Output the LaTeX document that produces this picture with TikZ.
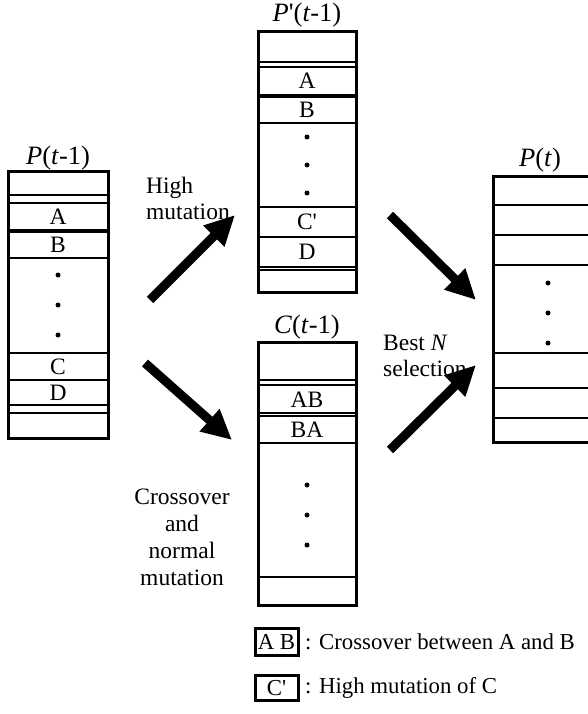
\documentclass[tikz,border=0pt]{standalone}
\usepackage{fontspec}
\setmainfont{Liberation Serif}
\usetikzlibrary{arrows.meta}
\newcommand{\prm}{\textquotesingle}
\begin{document}
\begin{tikzpicture}[x=1pt,y=-1pt,
  every node/.style={font=\fontsize{23.5}{25}\selectfont, inner sep=0pt},
  poplabel/.style={font=\fontsize{26.5}{28}\selectfont},
  keytext/.style={font=\fontsize{22.8}{25}\selectfont},
  frame/.style={draw, line width=3pt},
  rule/.style={line width=1.6pt},
  fat/.style={line width=9pt, -{Triangle[length=30pt,width=28pt]}},
  dot/.style={circle, fill, minimum size=5pt, inner sep=0pt}
]
\useasboundingbox (0,0) rectangle (588,714);

% ---- population P(t-1)
\draw[frame] (8,172) rectangle (108,438);
\foreach \y in {195,203,230,232,258,353,380,405,413}
  \draw[rule] (8,\y) -- (108,\y);
\node[poplabel] (lbl-p) at (58,158) {\textit{P}(\textit{t}-1)};
\node (p-a) at (58,217) {A};
\node (p-b) at (58,245) {B};
\node[dot] (p-d1) at (58,275) {};
\node[dot] (p-d2) at (58,305) {};
\node[dot] (p-d3) at (58,335) {};
\node (p-c) at (58,367) {C};
\node (p-dd) at (58,393) {D};

% ---- mutated population P'(t-1)
\draw[frame] (258,32) rectangle (356,292);
\foreach \y in {62,67,95,97,123,207,237,267,270}
  \draw[rule] (258,\y) -- (356,\y);
\node[poplabel] (lbl-pp) at (307,15) {\textit{P}\prm(\textit{t}-1)};
\node (pp-a) at (307,81) {A};
\node (pp-b) at (307,110) {B};
\node[dot] (pp-d1) at (307,137) {};
\node[dot] (pp-d2) at (307,165) {};
\node[dot] (pp-d3) at (307,193) {};
\node (pp-c) at (307,222) {C\prm};
\node (pp-dd) at (307,252) {D};

% ---- offspring C(t-1)
\draw[frame] (258,342) rectangle (356,605);
\foreach \y in {380,385,413,416,443,577}
  \draw[rule] (258,\y) -- (356,\y);
\node[poplabel] (lbl-c) at (307,327) {\textit{C}(\textit{t}-1)};
\node (c-ab) at (307,400) {AB};
\node (c-ba) at (307,430) {BA};
\node[dot] (c-d1) at (307,485) {};
\node[dot] (c-d2) at (307,515) {};
\node[dot] (c-d3) at (307,545) {};

% ---- new population P(t)
\draw[frame] (600,177) -- (493,177) -- (493,442) -- (600,442);
\foreach \y in {205,235,265,353,388,418}
  \draw[rule] (493,\y) -- (600,\y);
\node[poplabel] (lbl-pt) at (540,160) {\textit{P}(\textit{t})};
\node[dot] (t-d1) at (548,283) {};
\node[dot] (t-d2) at (548,313) {};
\node[dot] (t-d3) at (548,343) {};

% ---- operator labels
\node[anchor=west] (hm1) at (146,188) {High};
\node[anchor=west] (hm2) at (146,212) {mutation};
\node[align=center, font=\fontsize{23.5}{27}\selectfont] (cx) at (182,537)
  {Crossover\\and\\normal\\mutation};
\node[anchor=west] (bn1) at (383,343) {Best \textit{N}};
\node[anchor=west] (bn2) at (383,368) {selection};

% ---- arrows
\coordinate (a1s) at (150,300); \coordinate (a1e) at (235,215);
\coordinate (a2s) at (145,363); \coordinate (a2e) at (232,440);
\coordinate (a3s) at (390,215); \coordinate (a3e) at (476,300);
\coordinate (a4s) at (390,450); \coordinate (a4e) at (476,365);
\draw[fat] (a1s) -- (a1e);
\draw[fat] (a2s) -- (a2e);
\draw[fat] (a3s) -- (a3e);
\draw[fat] (a4s) -- (a4e);

% ---- legend
\draw[frame] (255,628) rectangle (298,655);
\node[keytext] (k1) at (276.5,642) {A B};
\node[keytext, anchor=west] (k1t) at (305,642) {: Crossover between A and B};
\draw[frame] (255,675) rectangle (298,700);
\node[keytext] (k2) at (276.5,688) {C\prm};
\node[keytext, anchor=west] (k2t) at (305,688) {: High mutation of C};
\end{tikzpicture}
\end{document}
